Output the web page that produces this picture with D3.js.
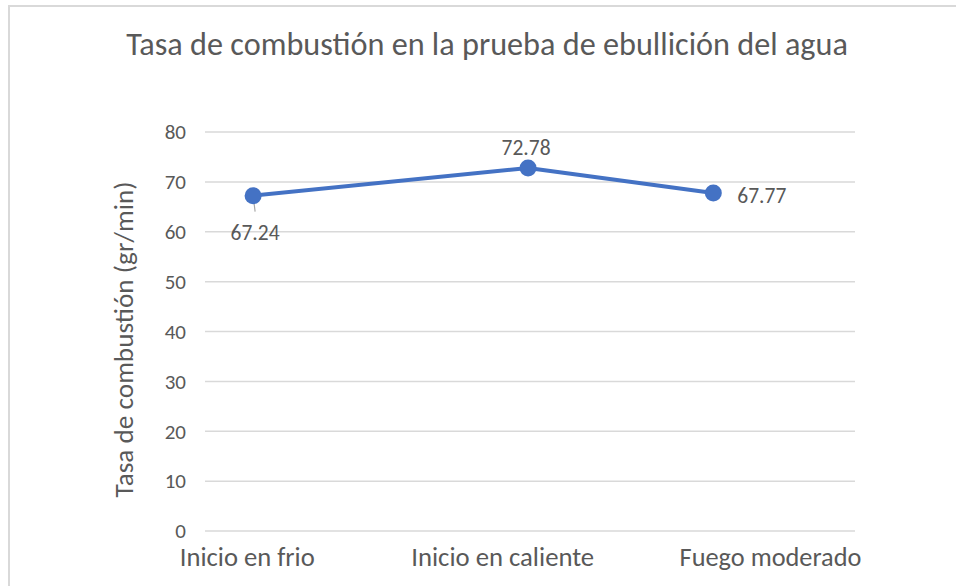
<!DOCTYPE html>
<html>
<head>
<meta charset="utf-8">
<script src="https://cdn.jsdelivr.net/npm/d3@7"></script>
<style>
  html, body { margin: 0; padding: 0; background: #fff; }
  svg { display: block; font-family: Calibri, Carlito, Lato, sans-serif; }
</style>
</head>
<body>
<div id="chart"></div>
<script>
const categories = ['Inicio en frio', 'Inicio en caliente', 'Fuego moderado'];
const values = [67.24, 72.78, 67.77];
const yTicks = [0, 10, 20, 30, 40, 50, 60, 70, 80];
const title = 'Tasa de combustión en la prueba de ebullición del agua';
const yTitle = 'Tasa de combustión (gr/min)';

const W = 956, H = 586;
const m = { left: 205, right: 101, top: 132, bottom: 55 };
const plotW = W - m.left - m.right;
const textCol = '#595959';
const lineCol = '#4472C4';

const svg = d3.select('#chart').append('svg')
  .attr('width', W).attr('height', H);

// chart frame (only top and left edges show in the crop)
svg.append('rect')
  .attr('x', 9).attr('y', 6)
  .attr('width', W).attr('height', H)
  .attr('fill', '#fff')
  .attr('stroke', '#d9d9d9').attr('stroke-width', 2);

const y = d3.scaleLinear().domain([0, 80]).range([H - m.bottom, m.top]);
// the source image is unevenly stretched, so the category slots are not equidistant
const x = d3.scaleLinear().domain([0, 1, 2])
  .range([0.074, 0.497, 0.782].map(f => m.left + f * plotW));
const xLab = d3.scaleLinear().domain([0, 1, 2])
  .range([0.065, 0.458, 0.87].map(f => m.left + f * plotW));

// scale font size so the text takes a given width
function fitText(sel, width) {
  sel.each(function (d, i) {
    const el = d3.select(this);
    const w = this.getComputedTextLength();
    const fs = parseFloat(el.attr('font-size'));
    const target = typeof width === 'function' ? width(d, i) : width;
    el.attr('font-size', fs * target / w);
  });
}

// gridlines
svg.append('g')
  .selectAll('line')
  .data(yTicks)
  .join('line')
  .attr('x1', m.left).attr('x2', W - m.right)
  .attr('y1', d => y(d)).attr('y2', d => y(d))
  .attr('stroke', '#d9d9d9').attr('stroke-width', 1.5);

// y tick labels
svg.append('g')
  .selectAll('text')
  .data(yTicks)
  .join('text')
  .attr('x', 186).attr('y', d => y(d))
  .attr('dy', '0.35em')
  .attr('text-anchor', 'end')
  .attr('fill', textCol)
  .attr('font-size', 21)
  .text(d => d);

// category labels
const catWidths = [135, 183, 182];
svg.append('g')
  .selectAll('text')
  .data(categories)
  .join('text')
  .attr('x', (d, i) => xLab(i))
  .attr('y', 566)
  .attr('text-anchor', 'middle')
  .attr('fill', textCol)
  .attr('font-size', 20)
  .text(d => d)
  .call(fitText, (d, i) => catWidths[i]);

// title
svg.append('text')
  .attr('x', 487).attr('y', 55)
  .attr('text-anchor', 'middle')
  .attr('fill', textCol)
  .attr('font-size', 24)
  .text(title)
  .call(fitText, 722);

// y axis title
svg.append('text')
  .attr('transform', `translate(133,${(y(0) + y(80)) / 2 + 8}) rotate(-90)`)
  .attr('text-anchor', 'middle')
  .attr('fill', textCol)
  .attr('font-size', 19)
  .text(yTitle)
  .call(fitText, 316);

// series line
const line = d3.line()
  .x((d, i) => x(i))
  .y(d => y(d));

svg.append('path')
  .datum(values)
  .attr('d', line)
  .attr('fill', 'none')
  .attr('stroke', lineCol)
  .attr('stroke-width', 4)
  .attr('stroke-linejoin', 'round');

// leader line for the first label
svg.append('line')
  .attr('x1', x(0)).attr('y1', y(values[0]))
  .attr('x2', x(0) + 2).attr('y2', y(values[0]) + 16)
  .attr('stroke', '#a6a6a6').attr('stroke-width', 1.2);

svg.append('g')
  .selectAll('circle')
  .data(values)
  .join('circle')
  .attr('cx', (d, i) => x(i))
  .attr('cy', d => y(d))
  .attr('r', 8.5)
  .attr('fill', lineCol);

// data labels
const labelPos = [
  { dx: 2, dy: 37, anchor: 'middle' },
  { dx: -2, dy: -21, anchor: 'middle' },
  { dx: 24, dy: 2, anchor: 'start' }
];
svg.append('g')
  .selectAll('text')
  .data(values)
  .join('text')
  .attr('x', (d, i) => x(i) + labelPos[i].dx)
  .attr('y', (d, i) => y(d) + labelPos[i].dy)
  .attr('dy', '0.35em')
  .attr('text-anchor', (d, i) => labelPos[i].anchor)
  .attr('fill', textCol)
  .attr('font-size', 21.5)
  .text(d => d.toFixed(2));
</script>
</body>
</html>
